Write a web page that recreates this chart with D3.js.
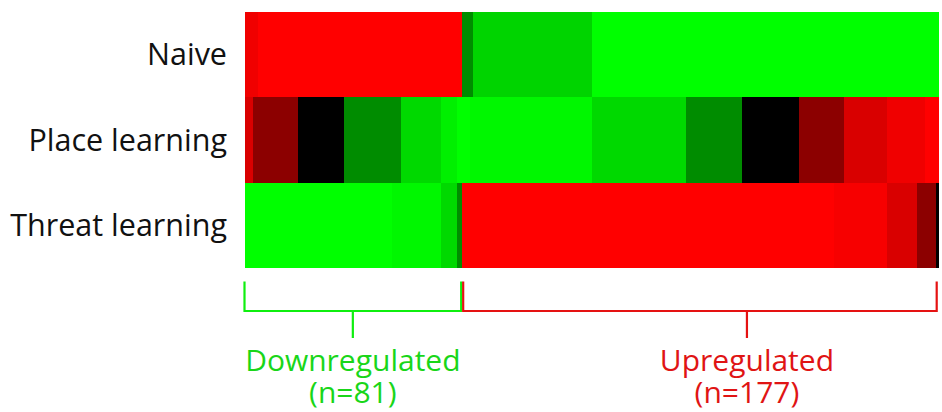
<!DOCTYPE html>
<html>
<head>
<meta charset="utf-8">
<script src="https://cdn.jsdelivr.net/npm/d3@7"></script>
<style>
  html, body { margin: 0; padding: 0; background: #fff; }
  svg { display: block; }
  text { font-family: "Open Sans", "Noto Sans", sans-serif; }
</style>
</head>
<body>
<svg id="chart" width="942" height="412"></svg>
<script>
// Conditions (rows) of the expression heatmap
const conditions = ["Naive", "Place learning", "Threat learning"];

// Gene groups along the columns
const groupNames = ["Downregulated", "Upregulated"];
const groupSizes = [81, 177];
const groupColors = ["#19d619", "#e01414"];
const bracketColors = ["#0fef0f", "#e51212"];

// Scaled expression per condition, stored as runs of consecutive genes
// (number of genes in the run, scaled value from -1 = green to +1 = red)
const naiveCounts = [5, 76, 4, 44, 129];
const naiveValues = [0.94, 1, -0.55, -0.83, -1];

const placeCounts = [3, 17, 17, 21, 15, 6, 5, 45, 35, 21, 21, 17, 16, 14, 5];
const placeValues = [0.85, 0.55, 0, -0.55, -0.85, -0.94, -1, -0.97, -0.85, -0.55, 0, 0.55, 0.85, 0.94, 1];

const threatCounts = [55, 18, 6, 2, 138, 20, 11, 7, 1];
const threatValues = [-1, -0.97, -0.85, -0.55, 1, 0.97, 0.85, 0.55, 0];

const rowCounts = [naiveCounts, placeCounts, threatCounts];
const rowValues = [naiveValues, placeValues, threatValues];

const totalGenes = d3.sum(groupSizes);

const svg = d3.select("#chart");

const x = d3.scaleLinear().domain([0, totalGenes]).range([244.5, 938.5]);
const y = d3.scaleBand().domain(conditions).range([12, 268]);
const color = d3.scaleLinear()
  .domain([-1, 0, 1])
  .range(["#00ff00", "#000000", "#ff0000"])
  .clamp(true);

// Build the cells: one rect per run of genes with the same value
const cells = [];
conditions.forEach((cond, r) => {
  let start = 0;
  rowCounts[r].forEach((n, i) => {
    cells.push({ cond, start, end: start + n, value: rowValues[r][i] });
    start += n;
  });
});

svg.append("g")
  .attr("shape-rendering", "crispEdges")
  .selectAll("rect")
  .data(cells)
  .join("rect")
  .attr("x", d => x(d.start))
  .attr("y", d => y(d.cond))
  .attr("width", d => x(d.end) - x(d.start))
  .attr("height", y.bandwidth())
  .attr("fill", d => color(d.value));

// Row labels
svg.append("g")
  .selectAll("text")
  .data(conditions)
  .join("text")
  .attr("x", 227)
  .attr("y", d => y(d) + y.bandwidth() / 2 + 10.5)
  .attr("text-anchor", "end")
  .attr("font-size", 30.5)
  .attr("fill", "#111")
  .text(d => d);

// Group brackets beneath the heatmap
const groups = [];
let acc = 0;
groupSizes.forEach((n, i) => {
  groups.push({ name: groupNames[i], n, start: acc, end: acc + n, i });
  acc += n;
});

// the label of the wide group sits to the right of its bracket's middle
const labelShift = [0, 47];

const bTop = 281.5, bBar = 311, bTick = 338;
const bg = svg.append("g").attr("fill", "none").attr("stroke-width", 2.2);
groups.forEach(g => {
  const x0 = x(g.start) + (g.i === 0 ? 0 : 0.8);
  const x1 = x(g.end) - (g.i === 0 ? 1.2 : 1.8);
  const xm = (x0 + x1) / 2 + labelShift[g.i];
  bg.append("path")
    .attr("stroke", bracketColors[g.i])
    .attr("d", `M${x0},${bTop}V${bBar}H${x1}V${bTop}M${xm},${bBar}V${bTick}`);
  const t = svg.append("text")
    .attr("text-anchor", "middle")
    .attr("font-size", 30)
    .attr("fill", groupColors[g.i]);
  t.append("tspan").attr("x", xm).attr("y", 371).text(g.name);
  t.append("tspan").attr("x", xm).attr("y", 403).text(`(n=${g.n})`);
});
</script>
</body>
</html>
